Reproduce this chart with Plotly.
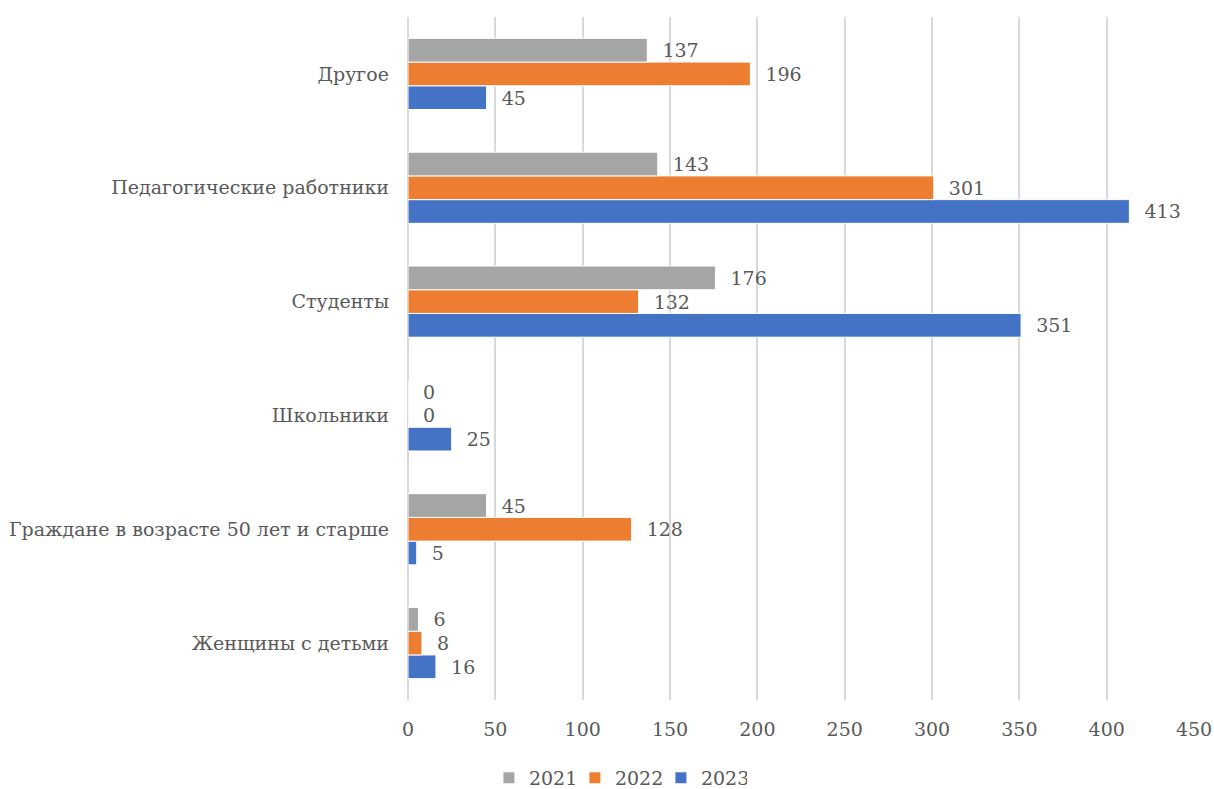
import plotly.graph_objects as go

categories = ["Женщины с детьми", "Граждане в возрасте 50 лет и старше", "Школьники",
              "Студенты", "Педагогические работники", "Другое"]
v2021 = [6, 45, 0, 176, 143, 137]
v2022 = [8, 128, 0, 132, 301, 196]
v2023 = [16, 5, 25, 351, 413, 45]

series = [("2023", v2023, "#4472C4"), ("2022", v2022, "#ED7D31"), ("2021", v2021, "#A5A5A5")]

font = dict(family="DejaVu Serif", size=19, color="#595959")

fig = go.Figure()
for name, vals, col in series:
    fig.add_trace(go.Bar(
        y=categories, x=vals, name=name, orientation="h",
        marker=dict(color=col, line=dict(color="white", width=1)),
        text=["\u00a0\u00a0" + str(v) for v in vals], textposition="outside",
        textfont=font, cliponaxis=False,
    ))

fig.update_layout(
    width=1214, height=789,
    barmode="group", bargap=0.375, bargroupgap=0,
    plot_bgcolor="white", paper_bgcolor="white",
    font=font,
    margin=dict(l=408, r=20, t=17, b=89, autoexpand=False),
    showlegend=True,
    legend=dict(orientation="h", traceorder="reversed", xref="container", yref="container",
                x=0.509, xanchor="center", y=0.014, yanchor="middle", font=font,
                entrywidth=41, entrywidthmode="pixels"),
    xaxis=dict(range=[0, 450], dtick=50, showgrid=True, gridcolor="#D9D9D9", gridwidth=2,
               zeroline=True, zerolinecolor="#D9D9D9", zerolinewidth=2, automargin=False,
               showline=False, ticks="", tickfont=font, ticklabelstandoff=16),
    yaxis=dict(showgrid=False, zeroline=False, showline=False, ticks="", automargin=False,
               tickfont=font, ticklabelstandoff=18),
)
fig.write_html("out.html", post_script="document.body.style.margin='0';",
               config={"displayModeBar": False})
